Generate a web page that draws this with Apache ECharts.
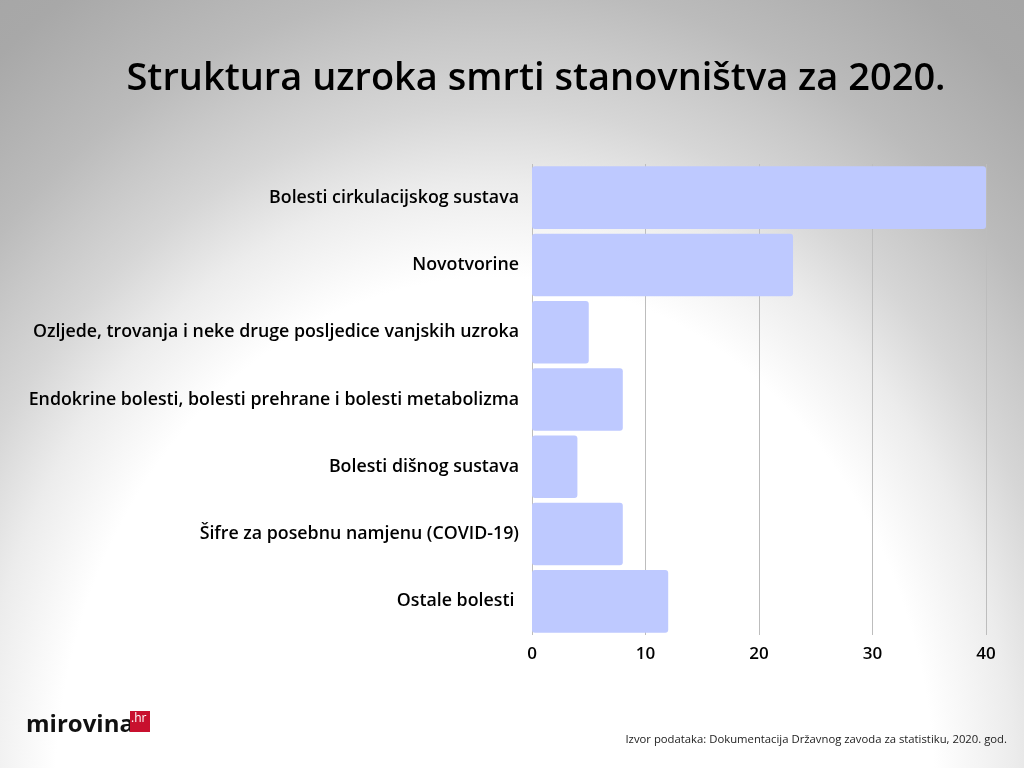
<!DOCTYPE html>
<html>
<head>
<meta charset="utf-8">
<script src="https://cdn.jsdelivr.net/npm/echarts@6/dist/echarts.min.js"></script>
<style>
html,body{margin:0;padding:0;width:1024px;height:768px;overflow:hidden;}
body{background: radial-gradient(ellipse 800px 950px at 495px 800px, #ffffff 0%, #ffffff 55%, #ececec 65%, #d6d6d6 73%, #c8c8c8 80%, #bbbbbb 86%, #a8a8a8 100%, #a2a2a2 120%);}
#c{width:1024px;height:768px;}
</style>
</head>
<body>
<div id="c"></div>
<script>
const categories = [
  "Bolesti cirkulacijskog sustava",
  "Novotvorine",
  "Ozljede, trovanja i neke druge posljedice vanjskih uzroka",
  "Endokrine bolesti, bolesti prehrane i bolesti metabolizma",
  "Bolesti dišnog sustava",
  "Šifre za posebnu namjenu (COVID-19)",
  "Ostale bolesti "
];
const values = [40, 23, 5, 8, 4, 8, 12];
const xTicks = [0, 10, 20, 30, 40];

const FONT = "'Open Sans', sans-serif";
const chart = echarts.init(document.getElementById('c'));
chart.setOption({
  backgroundColor: 'transparent',
  animation: false,
  title: {
    text: 'Struktura uzroka smrti stanovništva za 2020.',
    left: 531, top: 55, textAlign: 'center',
    textStyle: {fontFamily: FONT, fontSize: 38, fontWeight: 600, color: '#000'}
  },
  grid: {left: 532, right: 38, top: 164, bottom: 133, containLabel: false},
  xAxis: {
    type: 'value', min: 0, max: 40, interval: 10,
    axisLine: {show: false}, axisTick: {show: false},
    splitLine: {show: true, lineStyle: {color: '#bdbdbd', width: 1}},
    axisLabel: {
      margin: 11, color: '#000', fontFamily: FONT, fontSize: 17, fontWeight: 600,
      formatter: v => xTicks.includes(v) ? String(v) : ''
    }
  },
  yAxis: {
    type: 'category', data: categories, inverse: true,
    axisLine: {show: false}, axisTick: {show: false},
    axisLabel: {margin: 13, color: '#000', fontFamily: FONT, fontSize: 17.8, fontWeight: 600}
  },
  series: [{
    type: 'bar', data: values, barCategoryGap: '7%',
    itemStyle: {color: '#bec9ff', borderRadius: 3}
  }],
  graphic: [
    {type: 'text', left: 26, top: 713,
     style: {text: 'mirovina', fontFamily: FONT, fontSize: 24, fontWeight: 700, fill: '#111'}},
    {type: 'rect', shape: {x: 130, y: 711, width: 20, height: 21}, style: {fill: '#c8102e'}},
    {type: 'text', x: 131, y: 713,
     style: {text: '.hr', fontFamily: FONT, fontSize: 12, fontWeight: 400, fill: '#fff'}},
    {type: 'text', right: 17, top: 734,
     style: {text: 'Izvor podataka: Dokumentacija Državnog zavoda za statistiku, 2020. god.', fontFamily: FONT, fontSize: 11.3, fill: '#222'}}
  ]
});
</script>
</body>
</html>
